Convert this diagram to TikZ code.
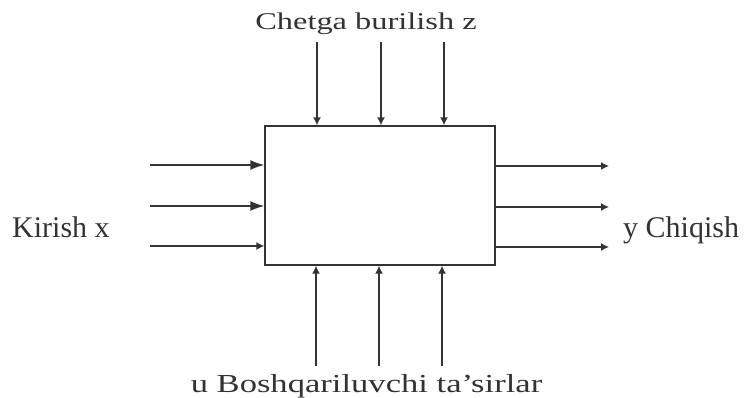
\documentclass[tikz,border=0pt]{standalone}
\usepackage{fontspec}
\setmainfont{Liberation Serif}
\usetikzlibrary{arrows.meta}
\definecolor{ink}{HTML}{333333}
\definecolor{txt}{HTML}{333333}
\tikzset{
  blk/.style={draw=ink, line width=1.4pt, minimum width=230pt, minimum height=139pt, inner sep=0pt},
  sig/.style={draw=ink, line width=1.4pt, -{Latex[length=8pt,width=8pt]}},
  bigsig/.style={draw=ink, line width=1.4pt, -{Latex[length=14pt,width=10pt]}},
  lbl/.style={text=txt, inner sep=0pt, anchor=base},
}
\begin{document}
\begin{tikzpicture}[x=1pt,y=-1pt]
\useasboundingbox (0,0) rectangle (745,397);
\node[blk] (box) at (380,195.5) {};
% inputs (left)
\coordinate (l1) at (150,165);
\coordinate (l2) at (150,206);
\coordinate (l3) at (150,246);
\draw[bigsig] (l1) -- (l1 -| box.west);
\draw[bigsig] (l2) -- (l2 -| box.west);
\draw[sig] (l3) -- (l3 -| box.west);
% outputs (right)
\coordinate (r1) at (609,166);
\coordinate (r2) at (609,207);
\coordinate (r3) at (609,247);
\draw[sig] (r1 -| box.east) -- (r1);
\draw[sig] (r2 -| box.east) -- (r2);
\draw[sig] (r3 -| box.east) -- (r3);
% disturbances (top)
\coordinate (t1) at (317,42);
\coordinate (t2) at (381,42);
\coordinate (t3) at (444,42);
\draw[sig] (t1) -- (t1 |- box.north);
\draw[sig] (t2) -- (t2 |- box.north);
\draw[sig] (t3) -- (t3 |- box.north);
% control (bottom)
\coordinate (b1) at (316,366);
\coordinate (b2) at (379,366);
\coordinate (b3) at (442,366);
\draw[sig] (b1) -- (b1 |- box.south);
\draw[sig] (b2) -- (b2 |- box.south);
\draw[sig] (b3) -- (b3 |- box.south);
% labels
\node[lbl] (ztxt) at (366,29) {\fontsize{24}{28}\selectfont\scalebox{1.35}[1]{Chetga burilish z}};
\node[lbl, anchor=base west] (xtxt) at (12,237) {\fontsize{30}{34}\selectfont Kirish x};
\node[lbl, anchor=base west] (ytxt) at (623,237) {\fontsize{30}{34}\selectfont y Chiqish};
\node[lbl] (utxt) at (366.5,392) {\fontsize{26}{30}\selectfont\scalebox{1.33}[1]{u Boshqariluvchi ta'sirlar}};
\end{tikzpicture}
\end{document}
